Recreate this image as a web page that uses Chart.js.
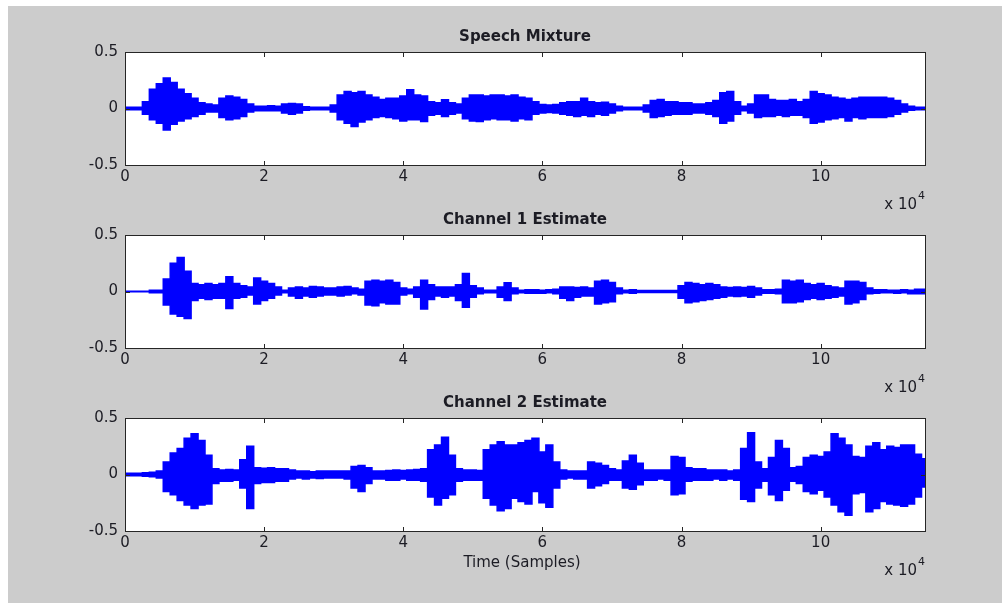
<!DOCTYPE html>
<html>
<head>
<meta charset="utf-8">
<script src="https://cdn.jsdelivr.net/npm/chart.js@4.4.1/dist/chart.umd.min.js"></script>
<style>
html,body{margin:0;padding:0;background:#fff;}
#wrap{position:relative;width:1002px;height:603px;}
#wrap canvas{position:absolute;left:0;top:0;}
</style>
</head>
<body>
<div id="wrap">
<canvas id="c0" width="1002" height="603"></canvas>
<canvas id="c1" width="1002" height="603"></canvas>
<canvas id="c2" width="1002" height="603"></canvas>
</div>
<script>
// envelope of each waveform, every 1000 samples (0 .. 115000)
var sampleStep = 1000
var xTickValues = [0, 20000, 40000, 60000, 80000, 100000]
var yTickValues = [-0.5, 0, 0.5]
var titles = ['Speech Mixture', 'Channel 1 Estimate', 'Channel 2 Estimate']

var mixUpper = [0.01,0.01,0.01,0.06,0.17,0.22,0.27,0.23,0.17,0.13,0.09,0.05,0.04,0.03,0.09,0.11,0.10,0.08,0.04,0.02,
  0.02,0.025,0.02,0.04,0.045,0.04,0.015,0.01,0.01,0.01,0.03,0.12,0.15,0.14,0.15,0.12,0.10,0.08,0.09,0.09,
  0.11,0.165,0.12,0.11,0.06,0.05,0.077,0.05,0.04,0.09,0.12,0.12,0.11,0.12,0.12,0.11,0.12,0.10,0.09,0.06,
  0.035,0.03,0.035,0.05,0.06,0.06,0.09,0.06,0.05,0.055,0.04,0.02,0.01,0.01,0.01,0.03,0.07,0.08,0.06,0.06,
  0.05,0.05,0.04,0.04,0.05,0.07,0.14,0.15,0.06,0.02,0.04,0.12,0.12,0.08,0.07,0.07,0.08,0.06,0.08,0.15,
  0.13,0.12,0.10,0.09,0.08,0.09,0.10,0.10,0.10,0.10,0.09,0.07,0.04,0.02,0.01,0.01]
var mixLower = [-0.01,-0.01,-0.01,-0.05,-0.10,-0.13,-0.19,-0.14,-0.11,-0.09,-0.07,-0.05,-0.03,-0.03,-0.08,-0.10,-0.09,-0.07,-0.03,-0.02,
  -0.02,-0.02,-0.02,-0.04,-0.05,-0.04,-0.015,-0.01,-0.01,-0.01,-0.03,-0.10,-0.13,-0.16,-0.12,-0.10,-0.08,-0.07,-0.08,-0.09,
  -0.11,-0.10,-0.10,-0.115,-0.06,-0.05,-0.07,-0.05,-0.04,-0.09,-0.11,-0.115,-0.10,-0.09,-0.10,-0.10,-0.11,-0.09,-0.10,-0.05,
  -0.04,-0.035,-0.04,-0.05,-0.06,-0.07,-0.06,-0.07,-0.05,-0.06,-0.04,-0.02,-0.01,-0.01,-0.01,-0.03,-0.08,-0.07,-0.06,-0.05,
  -0.05,-0.05,-0.04,-0.04,-0.05,-0.07,-0.13,-0.11,-0.05,-0.02,-0.04,-0.08,-0.07,-0.07,-0.06,-0.07,-0.06,-0.06,-0.08,-0.13,
  -0.12,-0.10,-0.09,-0.08,-0.11,-0.08,-0.09,-0.08,-0.08,-0.08,-0.07,-0.05,-0.03,-0.015,-0.01,-0.01]

var ch1Upper = [0.003,0.003,0.003,0.003,0.01,0.01,0.11,0.25,0.30,0.18,0.07,0.06,0.07,0.06,0.07,0.13,0.07,0.05,0.04,0.12,
  0.09,0.07,0.04,0.01,0.03,0.04,0.03,0.045,0.04,0.03,0.03,0.04,0.045,0.03,0.02,0.09,0.10,0.09,0.10,0.08,
  0.03,0.02,0.04,0.10,0.06,0.04,0.04,0.04,0.06,0.16,0.05,0.03,0.01,0.01,0.04,0.077,0.03,0.01,0.015,0.015,
  0.01,0.015,0.02,0.04,0.04,0.035,0.04,0.03,0.09,0.10,0.08,0.03,0.01,0.015,0.008,0.008,0.008,0.008,0.008,0.008,
  0.05,0.08,0.07,0.06,0.07,0.06,0.04,0.035,0.04,0.035,0.045,0.03,0.015,0.015,0.02,0.10,0.09,0.10,0.07,0.06,
  0.07,0.05,0.04,0.03,0.09,0.09,0.08,0.03,0.015,0.015,0.01,0.01,0.015,0.01,0.02,0.02]
var ch1Lower = [-0.003,-0.003,-0.003,-0.003,-0.01,-0.01,-0.12,-0.20,-0.22,-0.24,-0.08,-0.06,-0.07,-0.06,-0.06,-0.15,-0.06,-0.05,-0.03,-0.11,
  -0.08,-0.06,-0.03,-0.01,-0.04,-0.06,-0.04,-0.05,-0.04,-0.03,-0.03,-0.04,-0.03,-0.02,-0.03,-0.12,-0.125,-0.10,-0.11,-0.11,
  -0.03,-0.02,-0.05,-0.155,-0.07,-0.04,-0.05,-0.04,-0.08,-0.14,-0.05,-0.02,-0.01,-0.01,-0.05,-0.08,-0.02,-0.01,-0.015,-0.015,
  -0.015,-0.01,-0.02,-0.06,-0.08,-0.05,-0.04,-0.04,-0.11,-0.10,-0.09,-0.02,-0.01,-0.015,-0.008,-0.008,-0.008,-0.008,-0.008,-0.008,
  -0.06,-0.10,-0.09,-0.08,-0.07,-0.06,-0.05,-0.04,-0.045,-0.04,-0.05,-0.03,-0.015,-0.015,-0.02,-0.10,-0.10,-0.09,-0.07,-0.06,
  -0.07,-0.06,-0.05,-0.04,-0.11,-0.10,-0.07,-0.02,-0.015,-0.01,-0.01,-0.015,-0.01,-0.02,-0.02,-0.02]

var ch2Upper = [0.01,0.01,0.01,0.015,0.02,0.03,0.11,0.19,0.23,0.32,0.36,0.30,0.17,0.05,0.04,0.045,0.04,0.13,0.25,0.06,
  0.055,0.06,0.05,0.05,0.04,0.03,0.03,0.025,0.03,0.03,0.03,0.03,0.03,0.07,0.08,0.06,0.03,0.03,0.035,0.04,
  0.035,0.04,0.045,0.05,0.22,0.26,0.33,0.17,0.05,0.04,0.04,0.035,0.22,0.26,0.29,0.26,0.26,0.28,0.30,0.32,
  0.20,0.26,0.11,0.04,0.03,0.03,0.03,0.11,0.10,0.08,0.05,0.04,0.12,0.17,0.10,0.04,0.04,0.04,0.04,0.16,
  0.15,0.06,0.05,0.05,0.04,0.04,0.04,0.03,0.04,0.23,0.37,0.11,0.05,0.15,0.30,0.23,0.06,0.07,0.15,0.17,
  0.16,0.20,0.36,0.32,0.26,0.16,0.15,0.25,0.28,0.22,0.25,0.24,0.26,0.26,0.18,0.14]
var ch2Lower = [-0.01,-0.01,-0.01,-0.015,-0.02,-0.03,-0.15,-0.18,-0.23,-0.27,-0.30,-0.27,-0.26,-0.08,-0.06,-0.06,-0.05,-0.12,-0.30,-0.08,
  -0.07,-0.07,-0.06,-0.06,-0.04,-0.03,-0.04,-0.03,-0.035,-0.03,-0.03,-0.03,-0.04,-0.12,-0.15,-0.08,-0.04,-0.04,-0.05,-0.05,
  -0.04,-0.05,-0.05,-0.06,-0.20,-0.27,-0.21,-0.18,-0.06,-0.05,-0.05,-0.05,-0.21,-0.27,-0.32,-0.30,-0.21,-0.24,-0.26,-0.15,
  -0.25,-0.29,-0.12,-0.04,-0.03,-0.04,-0.04,-0.12,-0.10,-0.08,-0.05,-0.05,-0.12,-0.13,-0.09,-0.05,-0.05,-0.04,-0.05,-0.18,
  -0.17,-0.06,-0.05,-0.05,-0.05,-0.04,-0.05,-0.04,-0.05,-0.22,-0.24,-0.12,-0.06,-0.18,-0.23,-0.14,-0.06,-0.08,-0.15,-0.17,
  -0.14,-0.20,-0.27,-0.33,-0.36,-0.17,-0.16,-0.33,-0.30,-0.24,-0.26,-0.27,-0.28,-0.26,-0.20,-0.11]

var FONT = "'DejaVu Sans', Verdana, sans-serif"
var TEXT = '#1c1c24'
Chart.defaults.font.family = FONT
Chart.defaults.font.size = 15
Chart.defaults.color = TEXT

function toPoints(arr){
  return arr.map(function(v,i){ return {x: i*sampleStep, y: v} })
}

// box, inward ticks, title and the x10^4 note, the way matlab draws an axes
var framePlugin = {
  id: 'frame',
  beforeDraw: function(chart, args, opts){
    if(!opts.background) return
    var ctx = chart.ctx
    ctx.save()
    ctx.fillStyle = '#ffffff'
    ctx.fillRect(0,0,chart.width,chart.height)
    ctx.fillStyle = '#cccccc'
    ctx.fillRect(8,6,chart.width-8,chart.height-6)
    ctx.restore()
  },
  beforeDatasetsDraw: function(chart){
    var a = chart.chartArea, ctx = chart.ctx
    ctx.save()
    ctx.fillStyle = '#ffffff'
    ctx.fillRect(a.left, a.top, a.right-a.left, a.bottom-a.top)
    ctx.restore()
  },
  afterDatasetsDraw: function(chart, args, opts){
    var a = chart.chartArea, ctx = chart.ctx
    var sx = chart.scales.x, sy = chart.scales.y
    ctx.save()
    ctx.strokeStyle = '#262626'
    ctx.lineWidth = 1
    ctx.strokeRect(a.left+0.5, a.top+0.5, a.right-a.left, a.bottom-a.top)
    ctx.beginPath()
    xTickValues.forEach(function(v){
      var x = Math.round(sx.getPixelForValue(v))+0.5
      ctx.moveTo(x, a.bottom); ctx.lineTo(x, a.bottom-4)
      ctx.moveTo(x, a.top+1); ctx.lineTo(x, a.top+5)
    })
    yTickValues.forEach(function(v){
      var y = Math.round(sy.getPixelForValue(v))+0.5
      ctx.moveTo(a.left+1, y); ctx.lineTo(a.left+5, y)
      ctx.moveTo(a.right, y); ctx.lineTo(a.right-4, y)
    })
    ctx.stroke()

    ctx.fillStyle = TEXT
    ctx.textAlign = 'center'
    ctx.textBaseline = 'alphabetic'
    ctx.font = 'bold 15px ' + FONT
    ctx.fillText(opts.title, (a.left+a.right)/2, a.top-11)

    ctx.font = '15px ' + FONT
    ctx.textAlign = 'right'
    ctx.fillText('x 10', a.right-8, a.bottom+44)
    ctx.textAlign = 'left'
    ctx.font = '11px ' + FONT
    ctx.fillText('4', a.right-7, a.bottom+34)

    if(opts.xlabel){
      ctx.font = '15px ' + FONT
      ctx.textAlign = 'center'
      ctx.fillText(opts.xlabel, (a.left+a.right)/2 - 3, a.bottom+36)
    }
    ctx.restore()
  }
}

var plotTops = [52, 235, 418]
var plotBottoms = [165, 348, 531]
var uppers = [mixUpper, ch1Upper, ch2Upper]
var lowers = [mixLower, ch1Lower, ch2Lower]

for(var i=0;i<3;i++){
  (function(i){
    var ctx = document.getElementById('c'+i).getContext('2d')
    new Chart(ctx,{
      type:'line',
      data:{
        datasets:[{
          data: toPoints(lowers[i]),
          borderColor:'#0000ff',
          borderWidth:1.5,
          pointRadius:0,
          stepped:'middle',
          fill:false
        },{
          data: toPoints(uppers[i]),
          borderColor:'#0000ff',
          backgroundColor:'#0000ff',
          borderWidth:1.5,
          pointRadius:0,
          stepped:'middle',
          fill:'-1'
        }]
      },
      options:{
        responsive:false,
        animation:false,
        events:[],
        layout:{padding:{left:0, right:77, top:plotTops[i], bottom:0}},
        plugins:{
          legend:{display:false},
          title:{display:false},
          tooltip:{enabled:false},
          frame:{title:titles[i], background: i===0, xlabel: i===2 ? 'Time (Samples)' : null}
        },
        scales:{
          x:{
            type:'linear', min:0, max:115000,
            grid:{display:false, drawTicks:false},
            border:{display:false},
            afterBuildTicks:function(scale){ scale.ticks = xTickValues.map(function(v){return {value:v}}) },
            afterFit:function(scale){ scale.height = 603 - plotBottoms[i] },
            ticks:{padding:3, maxRotation:0, autoSkip:false, callback:function(v){ return String(v/10000) }}
          },
          y:{
            type:'linear', min:-0.5, max:0.5,
            grid:{display:false, drawTicks:false},
            border:{display:false},
            afterBuildTicks:function(scale){ scale.ticks = yTickValues.map(function(v){return {value:v}}) },
            afterFit:function(scale){ scale.width = 125 },
            ticks:{padding:7, callback:function(v){ return String(v) }}
          }
        }
      },
      plugins:[framePlugin]
    })
  })(i)
}
</script>
</body>
</html>
